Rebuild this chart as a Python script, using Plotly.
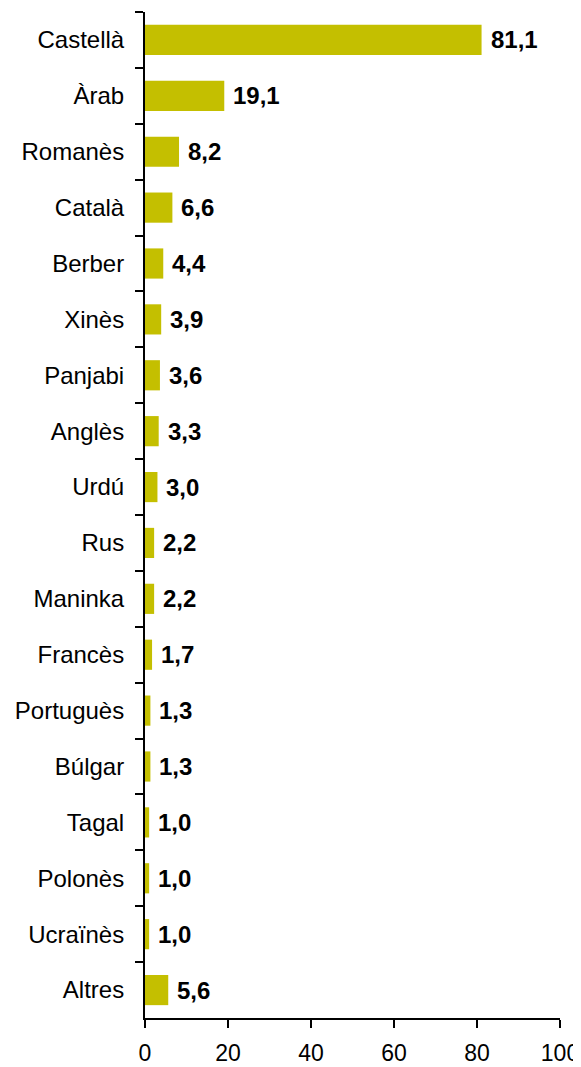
import plotly.graph_objects as go

categories = ["Castellà", "Àrab", "Romanès", "Català", "Berber", "Xinès", "Panjabi",
              "Anglès", "Urdú", "Rus", "Maninka", "Francès", "Portuguès", "Búlgar",
              "Tagal", "Polonès", "Ucraïnès", "Altres"]
values = [81.1, 19.1, 8.2, 6.6, 4.4, 3.9, 3.6, 3.3, 3.0, 2.2, 2.2, 1.7, 1.3, 1.3,
          1.0, 1.0, 1.0, 5.6]
x_ticks = [0, 20, 40, 60, 80, 100]

FONT = "Arial, Liberation Sans, sans-serif"
BAR_COLOR = "#C4BF00"
FS = 24

fig = go.Figure(go.Bar(
    x=values, y=categories, orientation="h",
    marker=dict(color=BAR_COLOR, line=dict(width=0)),
    hoverinfo="skip",
))

for c, v in zip(categories, values):
    fig.add_annotation(
        x=v, y=c, text="<b>" + f"{v:.1f}".replace(".", ",") + "</b>",
        showarrow=False, xanchor="left", xshift=7, yshift=0,
        font=dict(family=FONT, size=FS, color="black"),
    )

# page body adds an 8px margin; figure sized so the plot area lands at
# x 145..560, y 12..1018 in the browser window
fig.update_layout(
    width=573, height=1059,
    margin=dict(l=137, r=21, t=4, b=49, autoexpand=False),
    paper_bgcolor="white", plot_bgcolor="white",
    bargap=0.46, showlegend=False,
    font=dict(family=FONT, size=FS, color="black"),
)
fig.update_xaxes(
    range=[0, 100], tickvals=x_ticks, ticktext=[str(t) for t in x_ticks],
    showgrid=False, zeroline=False, automargin=False,
    showline=True, linecolor="black", linewidth=2,
    ticks="outside", ticklen=8, tickwidth=2, tickcolor="black",
    ticklabelstandoff=5,
    tickfont=dict(family=FONT, size=23, color="black"),
)
fig.update_yaxes(
    categoryorder="array", categoryarray=categories, autorange="reversed",
    showgrid=False, zeroline=False, automargin=False,
    showline=True, linecolor="black", linewidth=2,
    ticks="outside", ticklen=8, tickwidth=2, tickcolor="black",
    tickson="boundaries", ticklabelstandoff=14,
    tickfont=dict(family=FONT, size=FS, color="black"),
)

fig.write_html("out.html")
